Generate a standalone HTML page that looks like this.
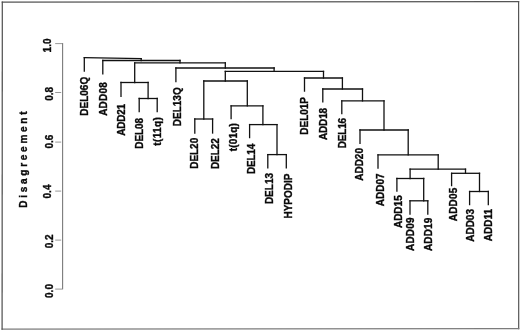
<!DOCTYPE html>
<html><head><meta charset="utf-8"><title>Dendrogram</title>
<style>
html,body{margin:0;padding:0;background:#fff;}
body{width:520px;height:331px;overflow:hidden;}
svg{display:block;will-change:transform;}
text{font-family:"Liberation Sans",sans-serif;font-weight:bold;fill:#0a0a0a;stroke:#0a0a0a;stroke-width:0.35;}
</style></head><body>
<svg width="520" height="331" viewBox="0 0 520 331">
<rect x="0" y="0" width="520" height="331" fill="#ffffff"/>
<g fill="none" stroke-width="1.2" stroke-linecap="square">
<line x1="2.3" y1="2.1" x2="518.6" y2="1.7" stroke="#555"/>
<line x1="518.6" y1="1.7" x2="518.7" y2="328.6" stroke="#555"/>
<line x1="2.1" y1="329.1" x2="518.7" y2="328.6" stroke="#7c7c7c"/>
<line x1="2.3" y1="2.1" x2="2.1" y2="329.1" stroke="#4c4c4c"/>
</g>
<line x1="62.6" y1="43.1" x2="62.6" y2="289.3" stroke="#7a7a7a" stroke-width="1.1"/>
<g stroke="#8c8c8c" stroke-width="0.9" fill="none">
<line x1="55.2" y1="43.6" x2="62.6" y2="43.6"/>
<line x1="55.2" y1="92.5" x2="61.2" y2="92.5"/>
<line x1="55.2" y1="142.1" x2="61.2" y2="142.1"/>
<line x1="55.2" y1="191.1" x2="61.2" y2="191.1"/>
<line x1="55.2" y1="240.1" x2="61.2" y2="240.1"/>
<line x1="55.2" y1="289.1" x2="62.6" y2="289.1"/>
</g>
<text font-size="10" text-anchor="middle" transform="translate(50.8,45.45) rotate(-90) scale(1,1.05)">1.0</text>
<text font-size="10" text-anchor="middle" transform="translate(52.8,93.90) rotate(-90) scale(1,1.05)">0.8</text>
<text font-size="10" text-anchor="middle" transform="translate(52.8,141.60) rotate(-90) scale(1,1.05)">0.6</text>
<text font-size="10" text-anchor="middle" transform="translate(50.6,191.50) rotate(-90) scale(1,1.05)">0.4</text>
<text font-size="10" text-anchor="middle" transform="translate(52.8,241.40) rotate(-90) scale(1,1.05)">0.2</text>
<text font-size="10" text-anchor="middle" transform="translate(52.8,291.00) rotate(-90) scale(1,1.05)">0.0</text>
<text font-size="10" letter-spacing="2.75" transform="translate(27.1,207.8) rotate(-90) scale(1,1.02)">Disagreement</text>
<g stroke="#111" stroke-width="1.3" fill="none" stroke-linecap="square">
<line x1="102.8" y1="60.5" x2="180.0" y2="60.5"/>
<line x1="102.8" y1="60.5" x2="102.8" y2="73.9"/>
<line x1="180.0" y1="60.5" x2="180.0" y2="62.8"/>
<line x1="134.7" y1="62.8" x2="225.3" y2="62.8"/>
<line x1="134.7" y1="62.8" x2="134.7" y2="82.5"/>
<line x1="225.3" y1="62.8" x2="225.3" y2="68.0"/>
<line x1="175.9" y1="68.0" x2="274.1" y2="68.0"/>
<line x1="175.9" y1="68.0" x2="175.9" y2="81.5"/>
<line x1="274.1" y1="68.0" x2="274.1" y2="71.4"/>
<line x1="225.3" y1="71.4" x2="323.5" y2="71.4"/>
<line x1="225.3" y1="71.4" x2="225.3" y2="81.0"/>
<line x1="323.5" y1="71.4" x2="323.5" y2="78.0"/>
<line x1="121.0" y1="82.5" x2="148.1" y2="82.5"/>
<line x1="121.0" y1="82.5" x2="121.0" y2="96.3"/>
<line x1="148.1" y1="82.5" x2="148.1" y2="98.5"/>
<line x1="139.2" y1="98.5" x2="157.2" y2="98.5"/>
<line x1="139.2" y1="98.5" x2="139.2" y2="111.7"/>
<line x1="157.2" y1="98.5" x2="157.2" y2="111.7"/>
<line x1="203.8" y1="81.0" x2="247.3" y2="81.0"/>
<line x1="203.8" y1="81.0" x2="203.8" y2="119.0"/>
<line x1="247.3" y1="81.0" x2="247.3" y2="105.8"/>
<line x1="194.8" y1="119.0" x2="212.6" y2="119.0"/>
<line x1="194.8" y1="119.0" x2="194.8" y2="133.0"/>
<line x1="212.6" y1="119.0" x2="212.6" y2="133.0"/>
<line x1="231.1" y1="105.8" x2="262.9" y2="105.8"/>
<line x1="231.1" y1="105.8" x2="231.1" y2="118.7"/>
<line x1="262.9" y1="105.8" x2="262.9" y2="124.6"/>
<line x1="249.6" y1="124.6" x2="277.0" y2="124.6"/>
<line x1="249.6" y1="124.6" x2="249.6" y2="137.6"/>
<line x1="277.0" y1="124.6" x2="277.0" y2="154.6"/>
<line x1="267.8" y1="154.6" x2="286.3" y2="154.6"/>
<line x1="267.8" y1="154.6" x2="267.8" y2="167.8"/>
<line x1="286.3" y1="154.6" x2="286.3" y2="167.8"/>
<line x1="304.5" y1="78.0" x2="342.4" y2="78.0"/>
<line x1="304.5" y1="78.0" x2="304.5" y2="91.1"/>
<line x1="342.4" y1="78.0" x2="342.4" y2="89.0"/>
<line x1="322.8" y1="89.0" x2="362.5" y2="89.0"/>
<line x1="322.8" y1="89.0" x2="322.8" y2="101.9"/>
<line x1="362.5" y1="89.0" x2="362.5" y2="100.9"/>
<line x1="341.8" y1="100.9" x2="384.0" y2="100.9"/>
<line x1="341.8" y1="100.9" x2="341.8" y2="113.7"/>
<line x1="384.0" y1="100.9" x2="384.0" y2="130.0"/>
<line x1="360.0" y1="130.0" x2="408.2" y2="130.0"/>
<line x1="360.0" y1="130.0" x2="360.0" y2="143.3"/>
<line x1="408.2" y1="130.0" x2="408.2" y2="154.8"/>
<line x1="378.0" y1="154.8" x2="438.2" y2="154.8"/>
<line x1="378.0" y1="154.8" x2="378.0" y2="168.0"/>
<line x1="438.2" y1="154.8" x2="438.2" y2="169.2"/>
<line x1="410.1" y1="169.2" x2="465.5" y2="169.2"/>
<line x1="410.1" y1="169.2" x2="410.1" y2="178.5"/>
<line x1="465.5" y1="169.2" x2="465.5" y2="173.3"/>
<line x1="396.9" y1="178.5" x2="423.7" y2="178.5"/>
<line x1="396.9" y1="178.5" x2="396.9" y2="191.0"/>
<line x1="423.7" y1="178.5" x2="423.7" y2="200.8"/>
<line x1="410.0" y1="200.8" x2="427.8" y2="200.8"/>
<line x1="410.0" y1="200.8" x2="410.0" y2="214.0"/>
<line x1="427.8" y1="200.8" x2="427.8" y2="214.0"/>
<line x1="451.6" y1="173.3" x2="479.5" y2="173.3"/>
<line x1="451.6" y1="173.3" x2="451.6" y2="185.6"/>
<line x1="479.5" y1="173.3" x2="479.5" y2="191.5"/>
<line x1="469.6" y1="191.5" x2="488.3" y2="191.5"/>
<line x1="469.6" y1="191.5" x2="469.6" y2="204.6"/>
<line x1="488.3" y1="191.5" x2="488.3" y2="204.6"/>
<line x1="84.3" y1="57.7" x2="141.2" y2="58.6"/>
<line x1="84.3" y1="57.7" x2="84.3" y2="71.0"/>
<line x1="141.2" y1="58.6" x2="141.2" y2="60.5"/>
</g>
<text letter-spacing="0" font-size="10" text-anchor="end" transform="translate(88.1,76.80) rotate(-90) scale(1,1.02)">DEL06Q</text>
<text letter-spacing="0.2" font-size="10" text-anchor="end" transform="translate(106.5,82.10) rotate(-90) scale(1,1.02)">ADD08</text>
<text letter-spacing="-0.25" font-size="10" text-anchor="end" transform="translate(125.3,104.15) rotate(-90) scale(1,1.02)">ADD21</text>
<text letter-spacing="-0.08" font-size="10" text-anchor="end" transform="translate(142.7,117.98) rotate(-90) scale(1,1.02)">DEL08</text>
<text letter-spacing="0.4" font-size="10" text-anchor="end" transform="translate(161.4,116.70) rotate(-90) scale(1,1.02)">t(11q)</text>
<text letter-spacing="0" font-size="10" text-anchor="end" transform="translate(181.0,87.30) rotate(-90) scale(1,1.02)">DEL13Q</text>
<text letter-spacing="-0.05" font-size="10" text-anchor="end" transform="translate(198.1,137.85) rotate(-90) scale(1,1.02)">DEL20</text>
<text letter-spacing="-0.05" font-size="10" text-anchor="end" transform="translate(218.5,138.25) rotate(-90) scale(1,1.02)">DEL22</text>
<text letter-spacing="0.2" font-size="10" text-anchor="end" transform="translate(236.7,122.90) rotate(-90) scale(1,1.02)">t(01q)</text>
<text letter-spacing="-0.25" font-size="10" text-anchor="end" transform="translate(255.1,144.05) rotate(-90) scale(1,1.02)">DEL14</text>
<text letter-spacing="0" font-size="10" text-anchor="end" transform="translate(272.6,173.00) rotate(-90) scale(1,1.02)">DEL13</text>
<text letter-spacing="0" font-size="10" text-anchor="end" transform="translate(291.6,173.60) rotate(-90) scale(1,1.02)">HYPODIP</text>
<text letter-spacing="-0.04" font-size="10" text-anchor="end" transform="translate(308.2,97.14) rotate(-90) scale(1,1.02)">DEL01P</text>
<text letter-spacing="-0.17" font-size="10" text-anchor="end" transform="translate(326.7,108.07) rotate(-90) scale(1,1.02)">ADD18</text>
<text letter-spacing="-0.17" font-size="10" text-anchor="end" transform="translate(345.5,118.07) rotate(-90) scale(1,1.02)">DEL16</text>
<text letter-spacing="0" font-size="10" text-anchor="end" transform="translate(363.4,148.00) rotate(-90) scale(1,1.02)">ADD20</text>
<text letter-spacing="0" font-size="10" text-anchor="end" transform="translate(383.5,173.40) rotate(-90) scale(1,1.02)">ADD07</text>
<text letter-spacing="0" font-size="10" text-anchor="end" transform="translate(402.0,195.30) rotate(-90) scale(1,1.02)">ADD15</text>
<text letter-spacing="0.22" font-size="10" text-anchor="end" transform="translate(413.9,217.18) rotate(-90) scale(1,1.02)">ADD09</text>
<text letter-spacing="0.12" font-size="10" text-anchor="end" transform="translate(431.7,217.68) rotate(-90) scale(1,1.02)">ADD19</text>
<text letter-spacing="0.15" font-size="10" text-anchor="end" transform="translate(457.1,187.65) rotate(-90) scale(1,1.02)">ADD05</text>
<text letter-spacing="0" font-size="10" text-anchor="end" transform="translate(474.2,209.00) rotate(-90) scale(1,1.02)">ADD03</text>
<text letter-spacing="0" font-size="10" text-anchor="end" transform="translate(492.2,209.00) rotate(-90) scale(1,1.02)">ADD11</text>
</svg>
</body></html>
